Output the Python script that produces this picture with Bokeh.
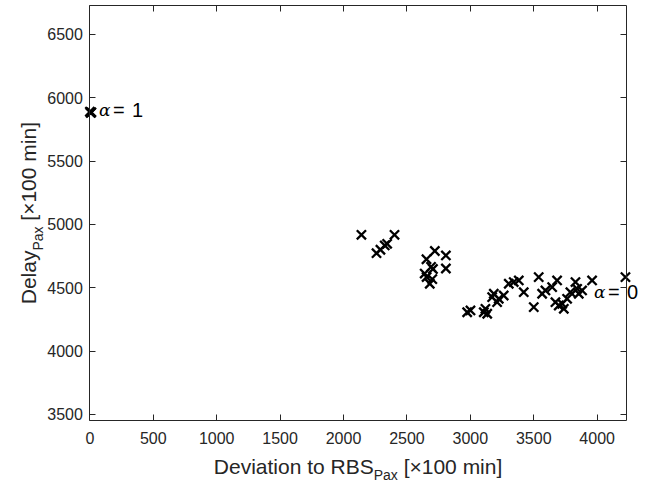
import math
from bokeh.plotting import figure
from bokeh.models import Range1d, LinearAxis, FixedTicker, CustomJSTickFormatter, Label, ColumnDataSource
from bokeh.embed import file_html
from bokeh.resources import INLINE

# ---- data ----
deviation = [0, 6, 12,
             2141, 2260, 2291, 2325, 2344, 2402,
             2654, 2720, 2807, 2807, 2640, 2655, 2680, 2700, 2705, 2690,
             2975, 3001, 3106, 3119, 3133, 3172, 3185, 3211, 3224, 3263,
             3303, 3342, 3382, 3421, 3500, 3539, 3566, 3592, 3645, 3684,
             3671, 3697, 3724, 3737, 3763, 3789, 3829, 3842, 3855, 3881,
             3960, 4223]
delay = [5890, 5880, 5885,
         4918, 4773, 4800, 4834, 4847, 4918,
         4725, 4790, 4755, 4652, 4612, 4585, 4532, 4568, 4648, 4665,
         4307, 4321, 4307, 4334, 4295, 4426, 4453, 4386, 4413, 4439,
         4532, 4545, 4558, 4465, 4347, 4584, 4453, 4479, 4505, 4558,
         4386, 4360, 4374, 4334, 4413, 4465, 4545, 4492, 4453, 4479,
         4558, 4584]

x_ticks = [0, 500, 1000, 1500, 2000, 2500, 3000, 3500, 4000]
y_ticks = [3500, 4000, 4500, 5000, 5500, 6000, 6500]
x_limits = [0, 4229]
y_limits = [3450, 6728]

alpha1_pos = (0, 5900)
alpha0_pos = (3960, 4465)

AX = "#262626"
SANS = "Liberation Sans"
NBSP = "\u00a0"

# canvas and axes-box geometry (pixels)
W, H = 645, 481
BL, BR, BT, BB = 89.4, 625.7, 5.0, 420.3
ppx = (BR - BL) / (x_limits[1] - x_limits[0])
ppy = (BB - BT) / (y_limits[1] - y_limits[0])

def px2x(px):
    return x_limits[0] + (px - BL) / ppx

def py2y(py):
    return y_limits[0] + (BB - py) / ppy

p = figure(width=W, height=H, output_backend="svg", toolbar_location=None,
           x_range=Range1d(px2x(0), px2x(W)), y_range=Range1d(py2y(H), py2y(0)),
           min_border=0, x_axis_location=None, y_axis_location=None)
p.background_fill_color = "white"
p.border_fill_color = "white"
p.outline_line_color = None
p.grid.visible = False

def make_axis(ticks, loc, bounds, show_labels, standoff=7):
    ax = LinearAxis(fixed_location=loc, bounds=tuple(bounds))
    ax.ticker = FixedTicker(ticks=ticks)
    ax.axis_line_color = AX
    ax.axis_line_width = 1
    ax.major_tick_line_color = AX
    ax.major_tick_line_width = 1
    ax.major_tick_in = 6
    ax.major_tick_out = 0
    ax.minor_tick_line_color = None
    if show_labels:
        ax.major_label_text_font = SANS
        ax.major_label_text_font_size = "16px"
        ax.major_label_text_color = AX
        ax.major_label_standoff = standoff
    else:
        ax.formatter = CustomJSTickFormatter(code="return ''")
        ax.major_label_text_font_size = "1px"
        ax.major_label_standoff = 0
    return ax

p.add_layout(make_axis(x_ticks, y_limits[0], x_limits, True, 11), "below")
p.add_layout(make_axis(y_ticks, x_limits[0], y_limits, True, 7), "left")
p.add_layout(make_axis(x_ticks, y_limits[1], x_limits, False), "above")
p.add_layout(make_axis(y_ticks, x_limits[1], y_limits, False), "right")

src = ColumnDataSource(dict(x=deviation, y=delay))
p.scatter("x", "y", source=src, marker="x", size=13, line_width=2.3, line_color="black")

def lab(x, y, text, dx=0, font=SANS, size=20, style="normal", color="black",
        align="left", baseline="middle", angle=0.0):
    return Label(x=x, y=y, x_offset=dx, text=text, text_font=font, text_font_style=style,
                 text_font_size=f"{size}px", text_color=color, text_align=align,
                 text_baseline=baseline, angle=angle)

# alpha annotations
ax1, ay1 = alpha1_pos
p.add_layout(lab(ax1, ay1, "α", 9, font="DejaVu Serif", size=17, style="italic"))
p.add_layout(lab(ax1, ay1, "=", 23))
p.add_layout(lab(ax1, ay1, "1", 42))
ax0, ay0 = alpha0_pos
p.add_layout(lab(ax0, ay0, "α", 2, font="DejaVu Serif", size=17, style="italic"))
p.add_layout(lab(ax0, ay0, "=", 16))
p.add_layout(lab(ax0, ay0, "0", 35))

# axis titles built from pieces (main text + subscript)
def em(s, size):
    w = {"D": .722, "e": .556, "l": .222, "a": .556, "y": .5, " ": .278, NBSP: .278, "[": .278,
         "]": .278, "×": .584, "1": .556, "0": .556, "m": .833, "i": .222, "n": .556, "P": .667,
         "x": .5, "v": .5, "t": .278, "o": .556, "R": .722, "B": .667, "S": .667}
    return sum(w.get(c, .556) for c in s) * size

MAIN, SUB = 21, 14

# x title
parts_x = [("Deviation to RBS", MAIN, 0), ("Pax", SUB, 8), (NBSP + "[×100 min]", MAIN, 0)]
total = sum(em(t, s) for t, s, _ in parts_x)
cx = (BL + BR) / 2 - total / 2
for t, s, off in parts_x:
    p.add_layout(lab(px2x(cx), py2y(466 + off), t, size=s, color=AX, baseline="alphabetic"))
    cx += em(t, s)

# y title (rotated)
parts_y = [("Delay", MAIN, 0), ("Pax", SUB, 9), (NBSP + "[×100 min]", MAIN, 0)]
total = sum(em(t, s) for t, s, _ in parts_y)
cy = (BT + BB) / 2 + total / 2
for t, s, off in parts_y:
    p.add_layout(lab(px2x(28 + off), py2y(cy), t, size=s, color=AX, baseline="alphabetic",
                     angle=math.pi / 2))
    cy -= em(t, s)

open("out.html", "w").write(file_html(p, INLINE))
